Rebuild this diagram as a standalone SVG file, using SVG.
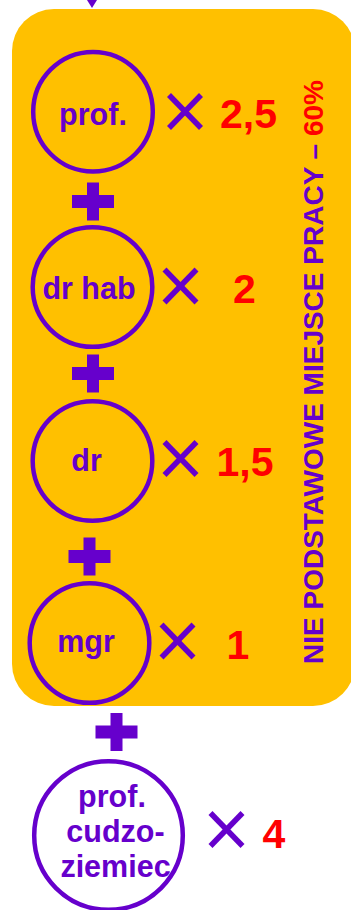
<svg xmlns="http://www.w3.org/2000/svg" xmlns:xlink="http://www.w3.org/1999/xlink" width="351" height="910" viewBox="0 0 351 910">
<style>
.bg{fill:#FFC000}
.node{fill:none;stroke:#6600CC;stroke-width:4.5}
.lbl{font-family:"Liberation Sans",Arial,sans-serif;font-weight:bold;font-size:30.5px;fill:#6600CC;text-anchor:middle}
.num{font-family:"Liberation Sans",Arial,sans-serif;font-weight:bold;font-size:41px;fill:#FF0000;text-anchor:middle}
.side{font-family:"Liberation Sans",Arial,sans-serif;font-weight:bold;font-size:28px;fill:#6600CC}
.red{fill:#FF0000}
.x{stroke:#6600CC;stroke-width:5.5;fill:none}
.plus{fill:#6600CC}
</style>
<defs>
<g id="times"><line class="x" x1="-16" y1="-16.5" x2="16" y2="16.5"/><line class="x" x1="16" y1="-16.5" x2="-16" y2="16.5"/></g>
<g id="plus"><rect class="plus" x="-21" y="-6.5" width="42" height="13"/><rect class="plus" x="-6" y="-19" width="12" height="38"/></g>
</defs>
<rect class="bg" x="12" y="9" width="343" height="697" rx="42" ry="42"/>
<g id="connectors">
<polygon class="plus" points="87,0 97,0 92,8"/>
<use xlink:href="#plus" x="93" y="201.5"/>
<use xlink:href="#plus" x="93" y="373.5"/>
<use xlink:href="#plus" x="89.5" y="556.5"/>
<use xlink:href="#plus" x="116.5" y="732"/>
</g>
<g id="n-prof">
<circle class="node" cx="93" cy="111.7" r="59.8"/>
<text class="lbl" x="93" y="125">prof.</text>
<use xlink:href="#times" x="185" y="111.5"/>
<text class="num" x="248.5" y="128">2,5</text>
</g>
<g id="n-drhab">
<circle class="node" cx="92.5" cy="287" r="59.8"/>
<text class="lbl" x="89" y="299">dr hab</text>
<use xlink:href="#times" x="180.5" y="286"/>
<text class="num" x="244.5" y="303">2</text>
</g>
<g id="n-dr">
<circle class="node" cx="92.5" cy="461" r="59.8"/>
<text class="lbl" x="86.5" y="471">dr</text>
<use xlink:href="#times" x="180.5" y="458.5"/>
<text class="num" x="245" y="476">1,5</text>
</g>
<g id="n-mgr">
<circle class="node" cx="89.5" cy="643" r="59.8"/>
<text class="lbl" x="86" y="652">mgr</text>
<use xlink:href="#times" x="177.5" y="641"/>
<text class="num" x="238" y="659">1</text>
</g>
<g id="n-cudz">
<circle class="node" cx="108.5" cy="835.5" r="74.3"/>
<text class="lbl" x="112" y="807">prof.</text>
<text class="lbl" x="115.5" y="842">cudzo-</text>
<text class="lbl" x="115.5" y="877">ziemiec</text>
<use xlink:href="#times" x="226.5" y="829.5"/>
<text class="num" x="274" y="848">4</text>
</g>
<g id="side-label">
<text class="side" transform="translate(323,664) rotate(-90)">NIE PODSTAWOWE MIEJSCE PRACY – <tspan class="red">60%</tspan></text>
</g>
</svg>
